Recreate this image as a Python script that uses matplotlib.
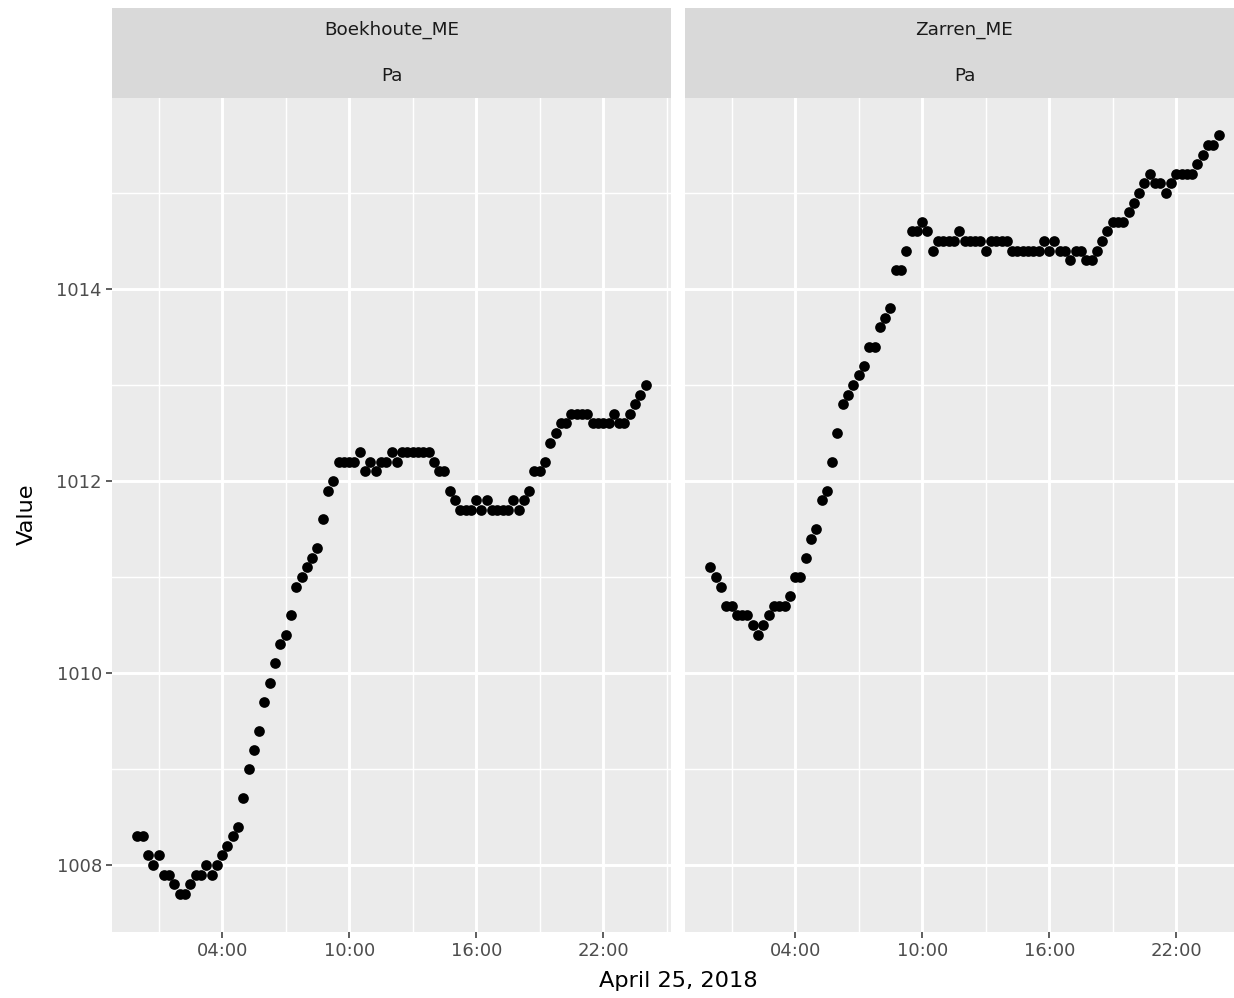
import numpy as np
import pandas as pd
import matplotlib
matplotlib.use("Agg")
import matplotlib.pyplot as plt
import matplotlib.dates as mdates
from matplotlib.ticker import FixedLocator

# 15-minute readings on April 25, 2018 (00:00 .. 24:00)
times = pd.date_range("2018-04-25 00:00", "2018-04-26 00:00", freq="15min")

stations = ["Boekhoute_ME", "Zarren_ME"]
unit = "Pa"

boekhoute = [
    1008.3, 1008.3, 1008.1, 1008.0,
    1008.1, 1007.9, 1007.9, 1007.8,
    1007.7, 1007.7, 1007.8, 1007.9,
    1007.9, 1008.0, 1007.9, 1008.0,
    1008.1, 1008.2, 1008.3, 1008.4,
    1008.7, 1009.0, 1009.2, 1009.4,
    1009.7, 1009.9, 1010.1, 1010.3,
    1010.4, 1010.6, 1010.9, 1011.0,
    1011.1, 1011.2, 1011.3, 1011.6,
    1011.9, 1012.0, 1012.2, 1012.2,
    1012.2, 1012.2, 1012.3, 1012.1,
    1012.2, 1012.1, 1012.2, 1012.2,
    1012.3, 1012.2, 1012.3, 1012.3,
    1012.3, 1012.3, 1012.3, 1012.3,
    1012.2, 1012.1, 1012.1, 1011.9,
    1011.8, 1011.7, 1011.7, 1011.7,
    1011.8, 1011.7, 1011.8, 1011.7,
    1011.7, 1011.7, 1011.7, 1011.8,
    1011.7, 1011.8, 1011.9, 1012.1,
    1012.1, 1012.2, 1012.4, 1012.5,
    1012.6, 1012.6, 1012.7, 1012.7,
    1012.7, 1012.7, 1012.6, 1012.6,
    1012.6, 1012.6, 1012.7, 1012.6,
    1012.6, 1012.7, 1012.8, 1012.9,
    1013.0,
]

zarren = [
    1011.1, 1011.0, 1010.9, 1010.7,
    1010.7, 1010.6, 1010.6, 1010.6,
    1010.5, 1010.4, 1010.5, 1010.6,
    1010.7, 1010.7, 1010.7, 1010.8,
    1011.0, 1011.0, 1011.2, 1011.4,
    1011.5, 1011.8, 1011.9, 1012.2,
    1012.5, 1012.8, 1012.9, 1013.0,
    1013.1, 1013.2, 1013.4, 1013.4,
    1013.6, 1013.7, 1013.8, 1014.2,
    1014.2, 1014.4, 1014.6, 1014.6,
    1014.7, 1014.6, 1014.4, 1014.5,
    1014.5, 1014.5, 1014.5, 1014.6,
    1014.5, 1014.5, 1014.5, 1014.5,
    1014.4, 1014.5, 1014.5, 1014.5,
    1014.5, 1014.4, 1014.4, 1014.4,
    1014.4, 1014.4, 1014.4, 1014.5,
    1014.4, 1014.5, 1014.4, 1014.4,
    1014.3, 1014.4, 1014.4, 1014.3,
    1014.3, 1014.4, 1014.5, 1014.6,
    1014.7, 1014.7, 1014.7, 1014.8,
    1014.9, 1015.0, 1015.1, 1015.2,
    1015.1, 1015.1, 1015.0, 1015.1,
    1015.2, 1015.2, 1015.2, 1015.2,
    1015.3, 1015.4, 1015.5, 1015.5,
    1015.6,
]

y_major = [1008, 1010, 1012, 1014]
y_minor = [1009, 1011, 1013, 1015]

W, H = 1234, 998


def px(l, t, r, b):
    return [l / W, 1 - b / H, (r - l) / W, (b - t) / H]


fig = plt.figure(figsize=(W / 100, H / 100), dpi=100)

# y range with ggplot-like 5% expansion
allv = np.array(boekhoute + zarren)
span = allv.max() - allv.min()
ylim = (allv.min() - 0.05 * span, allv.max() + 0.05 * span)
tspan = times[-1] - times[0]
xlim = (times[0] - 0.05 * tspan, times[-1] + 0.05 * tspan)

panels = [(112, 671), (685, 1244)]
for i, (name, vals) in enumerate(zip(stations, [boekhoute, zarren])):
    l, r = panels[i]
    ax = fig.add_axes(px(l, 97.5, r, 931.7))
    ax.set_facecolor("#EBEBEB")
    for s in ax.spines.values():
        s.set_visible(False)
    ax.set_axisbelow(True)

    ax.plot(times, vals, "o", color="black", ms=7.7, mew=0)

    ax.set_xlim(xlim)
    ax.set_ylim(ylim)
    ax.xaxis.set_major_locator(mdates.HourLocator(byhour=[4, 10, 16, 22]))
    ax.xaxis.set_minor_locator(mdates.HourLocator(byhour=[1, 7, 13, 19]))
    ax.xaxis.set_major_formatter(mdates.DateFormatter("%H:%M"))
    ax.yaxis.set_major_locator(FixedLocator(y_major))
    ax.yaxis.set_minor_locator(FixedLocator(y_minor))
    ax.yaxis.set_major_formatter(lambda v, p: f"{v:.0f}")

    ax.grid(which="major", color="white", lw=2.1)
    ax.grid(which="minor", color="white", lw=1.05)
    ax.tick_params(which="major", length=4, width=1.1, color="#333333",
                   labelsize=13, labelcolor="#4D4D4D", pad=3.2)
    ax.tick_params(which="minor", length=0)
    if i == 1:
        ax.tick_params(axis="y", which="both", length=0, labelleft=False)

    # facet strip with two label rows
    sax = fig.add_axes(px(l, 8, r, 97.5))
    sax.set_facecolor("#D9D9D9")
    sax.set_xticks([])
    sax.set_yticks([])
    for s in sax.spines.values():
        s.set_visible(False)
    sax.text(0.5, 0.754, name, ha="center", va="center", fontsize=13.2,
             color="#1A1A1A", transform=sax.transAxes)
    sax.text(0.5, 0.24, unit, ha="center", va="center", fontsize=13.2,
             color="#1A1A1A", transform=sax.transAxes)

fig.text(678 / W, 1 - 981 / H, "April 25, 2018", ha="center", va="center",
         fontsize=16.2, color="black")
fig.text(27 / W, 1 - 514 / H, "Value", ha="center", va="center",
         rotation=90, fontsize=16.2, color="black")

fig.savefig("out.png", dpi=100)
